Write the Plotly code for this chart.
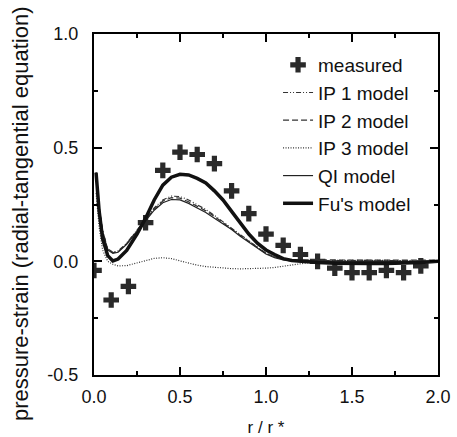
import plotly.graph_objects as go

# measured data
meas_x = [0.0, 0.1, 0.2, 0.3, 0.4, 0.5, 0.6, 0.7, 0.8, 0.9, 1.0, 1.1, 1.2, 1.3, 1.4, 1.5, 1.6, 1.7, 1.8, 1.9]
meas_y = [-0.04, -0.17, -0.11, 0.17, 0.40, 0.48, 0.47, 0.43, 0.31, 0.21, 0.12, 0.07, 0.03, 0.0, -0.03, -0.05, -0.05, -0.04, -0.05, -0.02]

# model curves
model_x = [0.012, 0.03, 0.05, 0.08, 0.11, 0.14, 0.19, 0.25, 0.3, 0.35, 0.4, 0.45, 0.5, 0.55, 0.6, 0.65,
           0.7, 0.75, 0.8, 0.85, 0.9, 0.95, 1.0, 1.05, 1.1, 1.15, 1.2, 1.3, 1.4, 1.5, 1.6, 1.7, 1.8, 1.9, 2.0]
fu_y = [0.39, 0.22, 0.10, 0.025, 0.002, 0.01, 0.048, 0.12, 0.19, 0.27, 0.335, 0.37, 0.383, 0.38, 0.365, 0.345,
        0.31, 0.27, 0.22, 0.17, 0.12, 0.08, 0.05, 0.03, 0.012, 0.004, 0.0, -0.005, -0.008, -0.01, -0.01, -0.01, -0.008, -0.005, 0.0]
qi_y = [0.39, 0.24, 0.13, 0.05, 0.035, 0.04, 0.075, 0.13, 0.18, 0.225, 0.258, 0.272, 0.27, 0.255, 0.235, 0.215,
        0.19, 0.165, 0.14, 0.11, 0.085, 0.057, 0.032, 0.016, 0.006, 0.002, 0.0, 0.0, 0.0, 0.0, 0.0, 0.0, 0.0, 0.0, 0.0]
ip1_y = [0.39, 0.24, 0.135, 0.055, 0.04, 0.045, 0.08, 0.135, 0.185, 0.235, 0.27, 0.287, 0.285, 0.27, 0.25, 0.228,
         0.202, 0.175, 0.148, 0.118, 0.09, 0.062, 0.036, 0.02, 0.01, 0.005, 0.003, 0.003, 0.004, 0.004, 0.004, 0.003, 0.003, 0.002, 0.002]
ip2_y = [0.39, 0.24, 0.133, 0.052, 0.038, 0.043, 0.078, 0.133, 0.183, 0.23, 0.265, 0.28, 0.278, 0.262, 0.242, 0.222,
         0.197, 0.171, 0.145, 0.115, 0.088, 0.06, 0.035, 0.02, 0.011, 0.007, 0.006, 0.006, 0.006, 0.006, 0.006, 0.005, 0.005, 0.005, 0.005]
ip3_y = [0.30, 0.15, 0.05, 0.0, -0.013, -0.02, -0.019, -0.008, 0.004, 0.013, 0.016, 0.012, 0.002, -0.008, -0.017, -0.023,
         -0.027, -0.03, -0.032, -0.033, -0.033, -0.032, -0.03, -0.027, -0.022, -0.016, -0.01, 0.0, 0.004, 0.005, 0.005, 0.004, 0.003, 0.002, 0.0]

x_ticks = [0.0, 0.5, 1.0, 1.5, 2.0]
y_ticks = [-0.5, 0.0, 0.5, 1.0]

FONT = "Liberation Sans, Arial, sans-serif"

fig = go.Figure()
fig.add_trace(go.Scatter(x=meas_x, y=meas_y, mode="markers", name="measured", legendgroup="a",
                         marker=dict(symbol="cross", size=13, color="#2a2a2a", line=dict(width=0))))
fig.add_trace(go.Scatter(x=model_x, y=ip1_y, mode="lines", name="IP 1 model", legendgroup="b",
                         line=dict(color="#333", width=1.2, dash="5px,2px,1px,2px,1px,2px")))
fig.add_trace(go.Scatter(x=model_x, y=ip2_y, mode="lines", name="IP 2 model", legendgroup="c",
                         line=dict(color="#333", width=1.2, dash="6px,3px")))
fig.add_trace(go.Scatter(x=model_x, y=ip3_y, mode="lines", name="IP 3 model", legendgroup="d",
                         line=dict(color="#333", width=1.2, dash="1px,1.5px")))
fig.add_trace(go.Scatter(x=model_x, y=qi_y, mode="lines", name="QI model", legendgroup="e",
                         line=dict(color="#222", width=1.2)))
fig.add_trace(go.Scatter(x=model_x, y=fu_y, mode="lines", name="Fu's model", legendgroup="f",
                         line=dict(color="#111", width=3.5)))

axis_common = dict(
    showgrid=False, zeroline=False, showline=True, linecolor="black", linewidth=2,
    mirror="allticks", ticks="inside", ticklen=8, tickwidth=1.5, tickcolor="black",
    tickfont=dict(family=FONT, size=18, color="#111"), automargin=False,
)
fig.update_xaxes(range=[0, 2], tickvals=x_ticks, ticktext=[f"{v:.1f}" for v in x_ticks],
                 minor=dict(ticks="inside", ticklen=4, dtick=0.25, tickwidth=1.5, tickcolor="black"),
                 title=dict(text="r / r *", font=dict(family=FONT, size=17, color="#111"), standoff=16),
                 ticklabelstandoff=4,
                 **axis_common)
fig.update_yaxes(range=[-0.5, 1.0], tickvals=y_ticks, ticktext=[f"{v:.1f}" for v in y_ticks],
                 minor=dict(ticks="inside", ticklen=4, dtick=0.25, tickwidth=1.5, tickcolor="black"),
                 ticklabelstandoff=10,
                 **axis_common)

fig.add_annotation(text="pressure-strain (radial-tangential equation)", textangle=-90,
                   xref="paper", yref="paper", x=-0.215, y=0.472, xanchor="center", yanchor="middle",
                   showarrow=False, font=dict(family=FONT, size=22, color="#111"))

fig.update_layout(
    width=457, height=437,
    margin=dict(l=94, r=19, t=34, b=62),
    paper_bgcolor="white", plot_bgcolor="white",
    font=dict(family=FONT, color="#111"),
    legend=dict(x=0.535, y=0.965, xanchor="left", yanchor="top", bgcolor="rgba(0,0,0,0)",
                font=dict(family=FONT, size=19, color="#111"), tracegroupgap=0,
                itemwidth=30),
)

fig.write_html("out.html")
